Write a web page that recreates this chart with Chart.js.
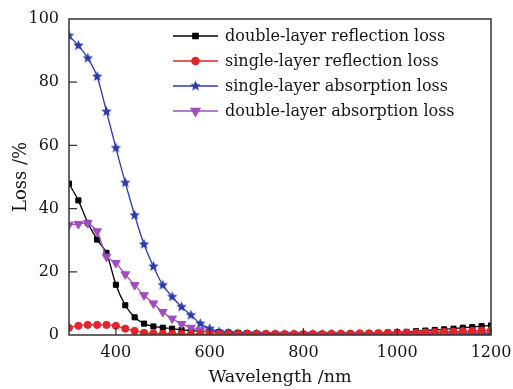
<!DOCTYPE html>
<html>
<head>
<meta charset="utf-8">
<script src="https://cdn.jsdelivr.net/npm/chart.js@4.4.0/dist/chart.umd.min.js"></script>
<style>
  html, body { margin: 0; padding: 0; background: #fff; }
  #wrap { width: 513px; height: 389px; }
</style>
</head>
<body>
<div id="wrap"><canvas id="myChart" width="513" height="389"></canvas></div>
<script>
// wavelength, nm (every 20 nm)
const wavelengths = [300, 320, 340, 360, 380, 400, 420, 440, 460, 480, 500, 520, 540, 560, 580, 600,
    620, 640, 660, 680, 700, 720, 740, 760, 780, 800, 820, 840, 860, 880, 900, 920, 940, 960, 980, 1000,
    1020, 1040, 1060, 1080, 1100, 1120, 1140, 1160, 1180, 1200];

// loss, %
const doubleReflection = [47.9, 42.6, 35.5, 30.2, 26.0, 15.9, 9.4, 5.6, 3.6, 2.7, 2.3, 2.0, 1.6, 1.4, 1.2, 1.0,
    0.9, 0.8, 0.7, 0.6, 0.5, 0.4, 0.4, 0.3, 0.3, 0.3, 0.3, 0.3, 0.3, 0.4, 0.4, 0.5, 0.6, 0.7, 0.8, 0.9,
    1.0, 1.2, 1.4, 1.6, 1.8, 2.0, 2.3, 2.5, 2.8, 3.0];
const singleReflection = [2.3, 2.9, 3.2, 3.2, 3.2, 2.9, 2.0, 1.3, 0.7, 0.5, 0.4, 0.4, 0.3, 0.3, 0.3, 0.3,
    0.3, 0.3, 0.3, 0.3, 0.3, 0.3, 0.3, 0.3, 0.3, 0.3, 0.3, 0.3, 0.4, 0.4, 0.4, 0.5, 0.5, 0.5, 0.6, 0.6,
    0.7, 0.7, 0.8, 0.9, 1.0, 1.1, 1.2, 1.3, 1.4, 1.5];
const singleAbsorption = [94.7, 91.6, 87.6, 81.8, 70.7, 59.2, 48.2, 37.9, 28.7, 21.7, 15.8, 12.1, 8.9, 6.3, 3.6, 2.0,
    1.0, 0.6, 0.4, 0.3, 0.3, 0.2, 0.2, 0.2, 0.2, 0.2, 0.2, 0.2, 0.2, 0.2, 0.2, 0.2, 0.2, 0.2, 0.2, 0.2,
    0.2, 0.2, 0.2, 0.2, 0.2, 0.2, 0.2, 0.2, 0.2, 0.2];
const doubleAbsorption = [34.9, 35.1, 35.4, 32.8, 24.8, 22.8, 19.2, 15.8, 12.6, 10.0, 7.3, 5.2, 3.5, 2.3, 1.5, 1.0,
    0.6, 0.4, 0.3, 0.2, 0.2, 0.1, 0.1, 0.1, 0.1, 0.1, 0.1, 0.1, 0.1, 0.1, 0.1, 0.1, 0.1, 0.1, 0.1, 0.1,
    0.1, 0.1, 0.1, 0.1, 0.1, 0.1, 0.1, 0.1, 0.1, 0.1];

const seriesNames = ["double-layer reflection loss", "single-layer reflection loss",
    "single-layer absorption loss", "double-layer absorption loss"];

const xTicks = [400, 600, 800, 1000, 1200];
const yTicks = [0, 20, 40, 60, 80, 100];

const serif = "'DejaVu Serif', serif";
const ink = "#151515";

// filled five-point star used as a point style
function starImage(color, r) {
    const c = document.createElement("canvas");
    c.width = c.height = Math.ceil(r * 2 + 2);
    const g = c.getContext("2d");
    const cx = c.width / 2, cy = c.height / 2;
    g.beginPath();
    for (let k = 0; k < 10; k++) {
        const rr = k % 2 === 0 ? r : r * 0.45;
        const ang = -Math.PI / 2 + k * Math.PI / 5;
        g.lineTo(cx + rr * Math.cos(ang), cy + rr * Math.sin(ang));
    }
    g.closePath();
    g.fillStyle = color;
    g.fill();
    return c;
}

function toPoints(values) {
    return wavelengths.map((w, i) => ({ x: w, y: values[i] }));
}

function makeSet(label, values, color, style, radius, rotation, order) {
    return {
        label: label,
        data: toPoints(values),
        borderColor: color,
        backgroundColor: color,
        borderWidth: 1.3,
        pointStyle: style,
        pointRadius: radius,
        pointRotation: rotation,
        pointBorderWidth: 1,
        pointBorderColor: color,
        pointBackgroundColor: color,
        tension: 0.2,
        order: order
    };
}

// frame round the plot, inward ticks, legend inside the plot
const framePlugin = {
    id: "frame",
    afterDatasetsDraw(chart) {
        const ctx = chart.ctx;
        const a = chart.chartArea;
        const xs = chart.scales.x, ys = chart.scales.y;
        ctx.save();
        ctx.strokeStyle = "#333";
        ctx.lineWidth = 1.5;
        ctx.strokeRect(a.left, a.top, a.right - a.left, a.bottom - a.top);
        ctx.lineWidth = 1.2;
        ctx.beginPath();
        xTicks.forEach(v => {
            const px = xs.getPixelForValue(v);
            ctx.moveTo(px, a.bottom);
            ctx.lineTo(px, a.bottom - 7);
        });
        yTicks.slice(1, -1).forEach(v => {
            const py = ys.getPixelForValue(v);
            ctx.moveTo(a.left, py);
            ctx.lineTo(a.left + 8, py);
        });
        ctx.stroke();

        // legend
        ctx.font = "16px " + serif;
        ctx.textBaseline = "middle";
        chart.data.datasets.forEach((ds, i) => {
            const y = 36 + i * 25;
            ctx.strokeStyle = ds.borderColor;
            ctx.fillStyle = ds.borderColor;
            ctx.lineWidth = 1.5;
            ctx.beginPath();
            ctx.moveTo(173, y);
            ctx.lineTo(218, y);
            ctx.stroke();
            Chart.helpers.drawPoint(ctx, {
                pointStyle: ds.pointStyle,
                rotation: ds.pointRotation,
                radius: ds.pointRadius,
                borderWidth: 1
            }, 195.5, y);
            ctx.fillStyle = ink;
            ctx.fillText(seriesNames[i], 225, y + 1);
        });
        ctx.restore();
    }
};

const ctx = document.getElementById("myChart").getContext("2d");

const lossChart = new Chart(ctx, {
    type: "line",
    data: {
        datasets: [
            makeSet(seriesNames[0], doubleReflection, "#000000", "rect", 3.6, 0, 4),
            makeSet(seriesNames[1], singleReflection, "#e3242b", "circle", 3.6, 0, 1),
            makeSet(seriesNames[2], singleAbsorption, "#2b3ba8", starImage("#2b3ba8", 5.5), 5.5, 0, 2),
            makeSet(seriesNames[3], doubleAbsorption, "#a24cc2", "triangle", 5, 180, 3)
        ]
    },
    options: {
        responsive: false,
        animation: false,
        layout: { padding: { top: 19, right: 22, left: 0, bottom: 0 } },
        plugins: {
            legend: { display: false },
            tooltip: { enabled: false }
        },
        scales: {
            x: {
                type: "linear",
                min: 300,
                max: 1200,
                afterBuildTicks: s => { s.ticks = xTicks.map(v => ({ value: v })); },
                afterFit: s => { s.height = 54; s.paddingLeft = 0; s.paddingRight = 0; },
                grid: { display: false, drawTicks: false },
                border: { display: false },
                ticks: {
                    padding: 8,
                    color: ink,
                    font: { family: serif, size: 16 },
                    maxRotation: 0,
                    callback: v => String(v)
                },
                title: {
                    display: true,
                    text: "Wavelength /nm",
                    color: ink,
                    font: { family: serif, size: 17.5 },
                    padding: { top: 0, bottom: 1 }
                }
            },
            y: {
                min: 0,
                max: 100,
                afterBuildTicks: s => { s.ticks = yTicks.map(v => ({ value: v })); },
                afterFit: s => { s.width = 69; s.paddingTop = 0; s.paddingBottom = 0; },
                grid: { display: false, drawTicks: false },
                border: { display: false },
                ticks: {
                    padding: 10,
                    color: ink,
                    font: { family: serif, size: 16 }
                },
                title: {
                    display: true,
                    text: "Loss /%",
                    color: ink,
                    font: { family: serif, size: 18 },
                    padding: { top: 11, bottom: 0 }
                }
            }
        }
    },
    plugins: [framePlugin]
});
</script>
</body>
</html>
